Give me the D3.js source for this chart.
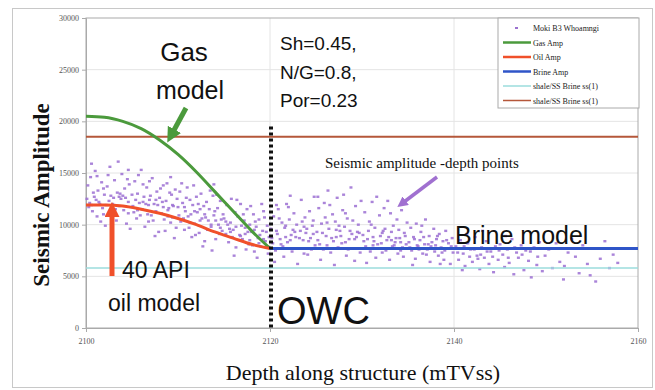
<!DOCTYPE html>
<html>
<head>
<meta charset="utf-8">
<script src="https://cdn.jsdelivr.net/npm/d3@7"></script>
<style>
  body { margin: 0; background: #fff; }
  svg { display: block; }
  .tick text { font-family: "Liberation Serif", serif; font-size: 8px; fill: #555; }
</style>
</head>
<body>
<div id="chart"></div>
<script>
// depth ticks and amplitude ticks
const xTicks = [2100, 2120, 2140, 2160];
const yTicks = [0, 5000, 10000, 15000, 20000, 25000, 30000];

// model curves [depth, amplitude]
const gasAmp = [[2100, 20500], [2102, 20400], [2104, 20000], [2106, 19300], [2108, 18200], [2110, 16800],
  [2112, 15100], [2114, 13200], [2116, 11300], [2118, 9400], [2120, 7700]];
const oilAmp = [[2100, 11900], [2102, 11900], [2104, 11800], [2106, 11500], [2108, 11100], [2110, 10600],
  [2112, 10000], [2114, 9300], [2116, 8700], [2118, 8100], [2120, 7700]];
const brineAmp = [[2120, 7700], [2160, 7700]];
const shaleLow = [[2100, 5800], [2160, 5800]];
const shaleHigh = [[2100, 18500], [2160, 18500]];

// Moki B3 Whoamngi amplitude-depth points
const moki = [
  [2100.2,13800],[2100.4,12100],[2100.5,14600],[2100.7,11300],[2100.9,12700],[2101.0,15200],[2101.2,10800],[2101.3,13300],
  [2101.5,12000],[2101.7,14100],[2101.8,11600],[2102.0,12900],[2102.1,9900],[2102.3,13700],[2102.5,12300],[2102.6,15600],
  [2102.8,11100],[2103.0,12600],[2103.1,14300],[2103.3,10400],[2103.4,13100],[2103.6,11800],[2103.8,12500],[2103.9,14900],
  [2104.1,11400],[2104.2,13500],[2104.4,10100],[2104.6,12200],[2104.7,13900],[2104.9,11700],[2100.3,11700],[2100.8,13100],
  [2101.1,12400],[2101.6,10300],[2101.9,13500],[2102.2,11900],[2102.7,12800],[2103.2,11500],[2103.7,13000],[2104.0,12800],
  [2104.5,14400],[2104.8,9600],[2100.6,15900],[2102.4,14800],[2103.5,16100],[2104.3,12600],
  [2105.0,12900],[2105.2,11200],[2105.3,14200],[2105.5,10600],[2105.6,13000],[2105.8,12100],[2106.0,15300],[2106.1,11500],
  [2106.3,12700],[2106.4,9800],[2106.6,13600],[2106.8,11900],[2106.9,12400],[2107.1,10900],[2107.2,14500],[2107.4,12000],
  [2107.6,11300],[2107.7,13200],[2107.9,9300],[2108.0,12600],[2108.2,11100],[2108.4,13800],[2108.5,10500],[2108.7,12300],
  [2108.8,14000],[2109.0,11600],[2109.2,10200],[2109.3,12900],[2109.5,11800],[2109.7,13400],[2109.8,9700],[2105.4,12400],
  [2105.9,10900],[2106.2,13900],[2106.7,11000],[2107.0,12800],[2107.5,8900],[2107.8,11900],[2108.3,12200],[2108.6,9400],
  [2108.9,11400],[2109.1,13100],[2109.4,10700],[2109.9,12500],[2105.7,14800],[2106.5,12000],[2107.3,10400],[2108.1,13500],
  [2109.6,8700],
  [2110.0,11700],[2110.2,13200],[2110.3,10300],[2110.5,12100],[2110.7,9500],[2110.8,11300],[2111.0,13600],[2111.1,10800],
  [2111.3,12400],[2111.5,8800],[2111.6,11900],[2111.8,10100],[2112.0,12700],[2112.1,11200],[2112.3,9200],[2112.5,13000],
  [2112.6,10600],[2112.8,11800],[2112.9,8400],[2113.1,12200],[2113.3,10400],[2113.4,11500],[2113.6,9800],[2113.8,12800],
  [2113.9,10900],[2114.1,8600],[2114.3,11600],[2114.4,10000],[2114.6,12300],[2114.8,9400],[2114.9,11000],[2110.4,14000],
  [2110.9,12600],[2111.4,11000],[2111.9,9000],[2112.2,12000],[2112.7,7900],[2113.0,10700],[2113.5,13300],[2113.7,7500],
  [2114.0,11300],[2114.5,9100],[2114.2,12900],[2111.2,9700],[2110.6,10600],[2112.4,11500],[2113.2,9500],[2114.7,10500],
  [2115.0,10600],[2115.2,9100],[2115.3,11900],[2115.5,8300],[2115.7,10200],[2115.8,12500],[2116.0,9500],[2116.2,11200],
  [2116.3,7800],[2116.5,10800],[2116.7,9000],[2116.8,12000],[2117.0,8600],[2117.2,10400],[2117.3,9700],[2117.5,11500],
  [2117.7,8100],[2117.8,10000],[2118.0,9300],[2118.2,11000],[2118.3,7400],[2118.5,9800],[2118.7,8700],[2118.8,10500],
  [2119.0,7900],[2119.2,9400],[2119.3,11300],[2119.5,8400],[2119.7,9900],[2119.8,7200],[2115.4,10000],[2115.9,8800],
  [2116.4,12400],[2116.9,9900],[2117.4,7600],[2117.9,11800],[2118.4,10300],[2118.9,9000],[2119.4,10700],[2119.9,8800],
  [2116.1,7000],[2117.1,11000],[2118.1,8000],[2119.1,12000],[2115.6,9600],[2118.6,6800],[2117.6,9300],
  [2120.1,9600],[2120.3,8200],[2120.4,10800],[2120.6,7500],[2120.8,9100],[2120.9,11500],[2121.1,8600],[2121.3,10200],
  [2121.4,7900],[2121.6,9700],[2121.8,12000],[2121.9,8300],[2122.1,10500],[2122.3,9000],[2122.4,7400],[2122.6,11100],
  [2122.8,8800],[2122.9,10000],[2123.1,7700],[2123.3,9400],[2123.4,12400],[2123.6,8500],[2123.8,10700],[2123.9,9200],
  [2124.1,7100],[2124.3,11300],[2124.4,8700],[2124.6,9900],[2124.8,12700],[2124.9,8000],[2120.5,6400],[2121.0,10600],
  [2121.5,6900],[2122.0,11700],[2122.5,9500],[2123.0,6200],[2123.5,10300],[2124.0,9600],[2124.5,7600],[2122.2,12800],
  [2120.7,11900],[2121.7,8800],[2123.7,7200],[2124.7,10400],
  [2125.1,9300],[2125.3,11600],[2125.4,8100],[2125.6,10100],[2125.8,7600],[2125.9,12100],[2126.1,8900],[2126.3,13300],
  [2126.4,9600],[2126.6,7300],[2126.8,11000],[2126.9,8400],[2127.1,10300],[2127.3,12600],[2127.4,7800],[2127.6,9400],
  [2127.8,8200],[2127.9,11400],[2128.1,9800],[2128.3,7000],[2128.4,10600],[2128.6,8600],[2128.8,13600],[2128.9,9100],
  [2129.1,7700],[2129.3,11800],[2129.4,8800],[2129.6,10000],[2129.8,7300],[2129.9,12300],[2125.5,6600],[2126.0,10700],
  [2126.5,11900],[2127.0,6100],[2127.5,9900],[2128.0,12900],[2128.5,7600],[2129.0,10400],[2129.5,9300],[2126.2,8000],
  [2127.2,8800],[2128.2,11100],[2129.2,6500],[2125.2,12700],
  [2130.1,9000],[2130.3,11200],[2130.4,7900],[2130.6,8600],[2130.8,10300],[2130.9,7400],[2131.1,12200],[2131.3,8400],
  [2131.4,9700],[2131.6,12700],[2131.8,7700],[2131.9,10900],[2132.1,8200],[2132.3,9400],[2132.4,11600],[2132.6,7500],
  [2132.8,12300],[2132.9,8800],[2133.1,11100],[2133.3,7900],[2133.4,9900],[2133.6,8300],[2133.8,10500],[2133.9,7200],
  [2134.1,8700],[2134.3,11400],[2134.4,7800],[2134.6,9200],[2134.8,8100],[2134.9,10200],[2130.5,6300],[2131.0,10000],
  [2131.5,6800],[2132.0,8900],[2132.5,9600],[2133.0,6600],[2133.5,8000],[2134.0,9500],[2134.5,6900],[2131.2,8000],
  [2132.2,7300],[2133.2,8500],[2134.2,7500],
  [2135.1,8300],[2135.3,9700],[2135.4,7500],[2135.6,8800],[2135.8,6700],[2135.9,10100],[2136.1,7900],[2136.3,8500],
  [2136.4,9300],[2136.6,7200],[2136.8,8100],[2136.9,10500],[2137.1,7600],[2137.3,8900],[2137.4,6400],[2137.6,8300],
  [2137.8,9600],[2137.9,7400],[2138.1,8600],[2138.3,7000],[2138.4,9100],[2138.6,7800],[2138.8,8400],[2138.9,6600],
  [2139.1,9400],[2139.3,7700],[2139.4,8200],[2139.6,6200],[2139.8,8700],[2139.9,7300],[2135.5,6100],[2136.0,8000],
  [2136.5,9900],[2137.0,7100],[2137.5,7900],[2138.0,8000],[2138.5,6200],[2139.0,7500],
  [2140.2,7900],[2140.5,6600],[2140.7,8500],[2141.0,7200],[2141.2,6000],[2141.5,8200],[2141.8,7600],[2142.0,6400],
  [2142.3,8800],[2142.5,7000],[2142.8,5700],[2143.0,7800],[2143.3,6800],[2143.5,8400],[2143.8,6200],[2144.0,7400],
  [2144.3,5400],[2144.5,7900],[2144.8,6600],[2145.0,8100],[2145.3,7100],[2145.5,5900],[2145.8,7600],[2146.0,6300],
  [2146.3,8600],[2146.5,5200],[2146.8,7300],[2147.0,6800],[2147.3,8000],[2147.6,5600],[2147.8,7500],[2148.1,6500],
  [2148.4,4900],[2148.7,7800],[2149.0,6100],[2149.3,8300],[2149.6,5500],[2149.9,7000],[2141.4,9100],[2143.1,9400],
  [2145.6,8900],[2140.9,5600],[2142.6,6700],
  [2150.3,7600],[2150.7,5800],[2151.1,8200],[2151.5,6400],[2151.9,4700],[2152.4,7300],[2152.8,8600],[2153.2,6900],
  [2153.6,5300],[2154.0,8000],[2154.5,6200],[2155.0,7700],[2155.4,4500],[2155.9,6700],[2156.4,8400],[2156.9,5800],
  [2157.3,7100],[2157.8,6300],[2154.8,5100],[2152.0,6000]
];

// denser core of the cloud, near the model curves
const mokiCore = [
  [2100.1,12500],[2100.6,11900],[2101.4,12200],[2101.9,11000],[2102.9,12000],[2103.6,12700],[2104.6,11100],[2105.1,11800],
  [2105.6,11400],[2106.2,12200],[2106.8,10300],[2107.6,12400],[2108.4,11700],[2108.9,10800],[2109.4,11900],[2110.1,10900],
  [2110.7,11700],[2111.3,10200],[2111.8,11300],[2112.4,10400],[2112.9,11000],[2113.6,10000],[2114.1,10400],[2114.6,9700],
  [2115.2,10300],[2115.7,9300],[2116.3,9800],[2116.8,8900],[2117.3,9100],[2117.8,8500],[2118.3,9500],[2118.8,8200],
  [2119.3,8600],[2119.6,9300],[2120.2,8700],[2120.7,9400],[2121.2,8100],[2121.7,9900],[2122.2,8500],[2122.7,9300],
  [2123.2,8700],[2123.7,9800],[2124.2,8400],[2124.7,9100],[2125.2,8500],[2125.7,9200],[2126.2,10200],[2126.7,8700],
  [2127.2,9500],[2127.7,8900],[2128.2,8300],[2128.7,9400],[2129.2,8600],[2129.7,9200],[2130.2,8400],[2130.7,9400],
  [2131.2,8800],[2131.7,8100],[2132.2,9200],[2132.7,8500],[2133.2,9300],[2133.7,8700],[2134.2,8300],[2134.7,8900],
  [2135.2,7800],[2135.7,8600],[2136.2,7600],[2136.7,8800],[2137.2,8100],[2137.7,7700],[2138.2,8900],[2138.7,7300],
  [2139.2,8500],[2139.7,7900],[2140.4,7300],[2141.1,7900],[2141.7,6900],[2142.2,7600],[2142.9,7100],[2143.6,7400],
  [2144.2,6900],[2144.9,7500],[2145.9,6800],[2146.6,7800],[2147.4,7100],[2148.3,7400],[2149.1,6900],
  [2101.2,14700],[2104.6,15300],[2106.9,14200],[2109.2,14600],[2111.7,13800],[2113.9,13900]
];

const legendNames = ['Moki B3 Whoamngi', 'Gas Amp', 'Oil Amp', 'Brine Amp', 'shale/SS Brine ss(1)', 'shale/SS Brine ss(1)'];
const legendColors = ['#9b72cf', '#4b9a3c', '#f0502a', '#2f55c8', '#9bdcdc', '#b5573a'];

const width = 655;
const height = 390;

const svg = d3.select('#chart')
  .append('svg')
  .attr('width', width)
  .attr('height', height);

// outer frame
svg.append('rect')
  .attr('x', 12.5).attr('y', 8.5)
  .attr('width', 640).attr('height', 379)
  .attr('fill', 'none').attr('stroke', '#c8c8c8');

const x = d3.scaleLinear().domain([2100, 2160]).range([86, 638]);
const y = d3.scaleLinear().domain([0, 30000]).range([328, 18]);

// grid
svg.append('g')
  .selectAll('line.h')
  .data(yTicks.slice(1, -1))
  .enter()
  .append('line')
  .attr('x1', x(2100)).attr('x2', x(2160))
  .attr('y1', d => y(d)).attr('y2', d => y(d))
  .attr('stroke', '#e4e4e4');

svg.append('g')
  .selectAll('line.v')
  .data(xTicks.slice(1, -1))
  .enter()
  .append('line')
  .attr('x1', d => x(d)).attr('x2', d => x(d))
  .attr('y1', y(0)).attr('y2', y(30000))
  .attr('stroke', '#e4e4e4');

svg.append('rect')
  .attr('x', x(2100)).attr('y', y(30000))
  .attr('width', x(2160) - x(2100)).attr('height', y(0) - y(30000))
  .attr('fill', 'none').attr('stroke', '#aaa');

// axes
const yAxis = svg.append('g')
  .attr('transform', 'translate(' + x(2100) + ',0)')
  .call(d3.axisLeft(y).tickValues(yTicks).tickSize(4).tickPadding(3).tickFormat(d3.format('d')));
const xAxis = svg.append('g')
  .attr('transform', 'translate(0,' + y(0) + ')')
  .call(d3.axisBottom(x).tickValues(xTicks).tickSize(4).tickPadding(6).tickFormat(d3.format('d')));
[yAxis, xAxis].forEach(a => {
  a.select('.domain').attr('stroke', '#aaa');
  a.selectAll('.tick line').attr('stroke', '#aaa');
});

// scatter points
svg.append('g')
  .selectAll('rect')
  .data(moki.concat(mokiCore))
  .enter()
  .append('rect')
  .attr('x', d => x(d[0]) - 1.5)
  .attr('y', d => y(d[1]) - 1.2)
  .attr('width', 3)
  .attr('height', 2.4)
  .attr('fill', '#9b6fd2')
  .attr('opacity', 0.85);

// model lines
const line = d3.line()
  .x(d => x(d[0]))
  .y(d => y(d[1]))
  .curve(d3.curveMonotoneX);

const series = [
  { data: shaleLow, color: legendColors[4], w: 1.5 },
  { data: shaleHigh, color: legendColors[5], w: 2 },
  { data: gasAmp, color: legendColors[1], w: 3 },
  { data: oilAmp, color: legendColors[2], w: 3 },
  { data: brineAmp, color: legendColors[3], w: 3 }
];

svg.append('g')
  .selectAll('path')
  .data(series)
  .enter()
  .append('path')
  .attr('d', d => line(d.data))
  .attr('fill', 'none')
  .attr('stroke', d => d.color)
  .attr('stroke-width', d => d.w);

// OWC dotted line
svg.append('line')
  .attr('x1', x(2120) + 1).attr('x2', x(2120) + 1)
  .attr('y1', y(19500)).attr('y2', y(0))
  .attr('stroke', '#111')
  .attr('stroke-width', 4)
  .attr('stroke-dasharray', '3,3');

// arrows
const defs = svg.append('defs');
function arrowHead(id, color) {
  defs.append('marker')
    .attr('id', id)
    .attr('viewBox', '0 0 10 10')
    .attr('refX', 2).attr('refY', 5)
    .attr('markerWidth', 3).attr('markerHeight', 3)
    .attr('orient', 'auto')
    .append('path')
    .attr('d', 'M0,0L10,5L0,10Z')
    .attr('fill', color);
}
arrowHead('ag', '#4b9a3c');
arrowHead('ao', '#f0502a');
arrowHead('ap', '#a070d0');

svg.append('line')
  .attr('x1', 186).attr('y1', 108).attr('x2', 173).attr('y2', 132)
  .attr('stroke', '#4b9a3c').attr('stroke-width', 5)
  .attr('marker-end', 'url(#ag)');
svg.append('line')
  .attr('x1', 112).attr('y1', 276).attr('x2', 112).attr('y2', 214)
  .attr('stroke', '#f0502a').attr('stroke-width', 5)
  .attr('marker-end', 'url(#ao)');
svg.append('line')
  .attr('x1', 437).attr('y1', 177).attr('x2', 404).attr('y2', 202)
  .attr('stroke', '#a070d0').attr('stroke-width', 3.5)
  .attr('marker-end', 'url(#ap)');

// annotation text
const sans = '"Liberation Sans", Arial, sans-serif';
const serif = '"Liberation Serif", "Times New Roman", serif';
function label(txt, px, py, size, family, anchor) {
  svg.append('text')
    .attr('x', px).attr('y', py)
    .attr('font-family', family)
    .attr('font-size', size)
    .attr('text-anchor', anchor || 'start')
    .attr('fill', '#111')
    .text(txt);
}
label('Gas', 184, 61, 26, sans, 'middle');
label('model', 190, 99, 25, sans, 'middle');
label('Sh=0.45,', 280, 50, 19, sans);
label('N/G=0.8,', 280, 79, 19, sans);
label('Por=0.23', 280, 107, 19, sans);
label('Seismic amplitude -depth points', 325, 168, 15, serif);
label('Brine model', 455, 244, 25, sans);
label('40 API', 122, 278, 23, sans);
label('oil model', 108, 311, 23, sans);
label('OWC', 277, 324, 38, sans);

// axis titles
svg.append('text')
  .attr('transform', 'translate(49,' + 195 + ') rotate(-90)')
  .attr('text-anchor', 'middle')
  .attr('font-family', serif)
  .attr('font-weight', 'bold')
  .attr('font-size', 23)
  .attr('fill', '#111')
  .text('Seismic Amplitude');
svg.append('text')
  .attr('x', 363).attr('y', 380)
  .attr('text-anchor', 'middle')
  .attr('font-family', serif)
  .attr('font-size', 22)
  .attr('fill', '#111')
  .text('Depth along structure (mTVss)');

// legend
const lg = svg.append('g').attr('transform', 'translate(498,18)');
lg.append('rect')
  .attr('width', 141).attr('height', 90)
  .attr('fill', '#fff').attr('stroke', '#aaa');
const rows = lg.selectAll('g.row')
  .data(legendNames)
  .enter()
  .append('g')
  .attr('transform', (d, i) => 'translate(0,' + (10 + i * 14.5) + ')');
rows.each(function (d, i) {
  const g = d3.select(this);
  if (i === 0) {
    g.append('rect').attr('x', 17).attr('y', -1).attr('width', 3).attr('height', 2).attr('fill', legendColors[0]);
  } else {
    g.append('line').attr('x1', 5).attr('x2', 33).attr('y1', 0).attr('y2', 0)
      .attr('stroke', legendColors[i]).attr('stroke-width', i >= 4 ? 1.5 : 2.5);
  }
  g.append('text')
    .attr('x', 35).attr('y', 3)
    .attr('font-family', serif)
    .attr('font-size', 8)
    .attr('fill', '#222')
    .text(d);
});
</script>
</body>
</html>
